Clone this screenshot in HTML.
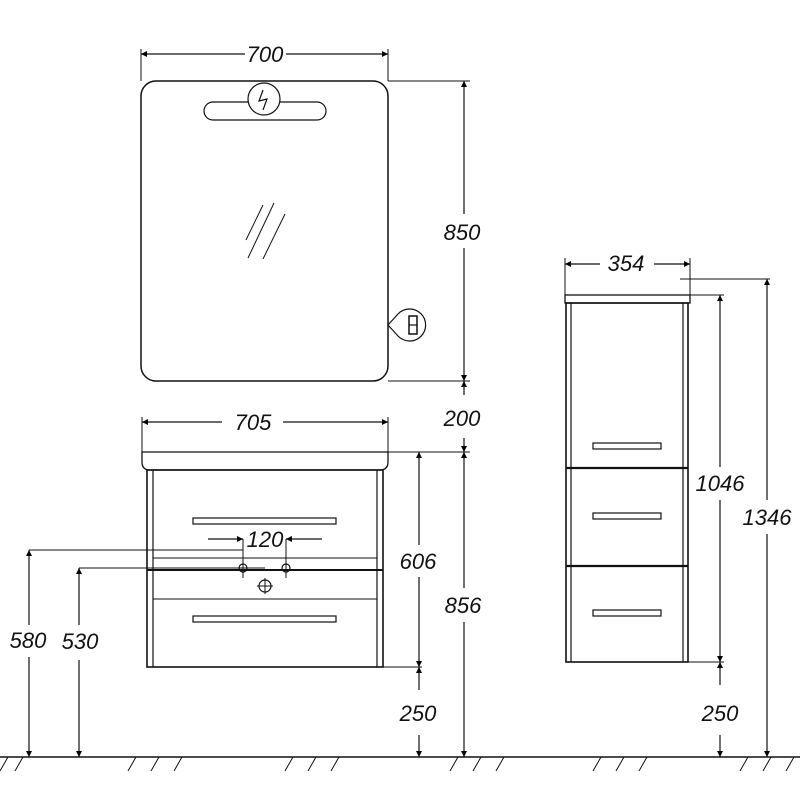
<!DOCTYPE html>
<html><head><meta charset="utf-8"><style>html,body{margin:0;padding:0;background:#fff}svg{display:block}text{font-family:"Liberation Sans",sans-serif;font-style:italic;font-size:22px;fill:#111;text-anchor:middle}</style></head>
<body>
<svg width="800" height="800" viewBox="0 0 800 800" xmlns="http://www.w3.org/2000/svg">
<defs>
<marker id="a" viewBox="0 0 10 10" refX="10" refY="5" markerWidth="14" markerHeight="6" markerUnits="userSpaceOnUse" orient="auto-start-reverse"><path d="M0,0L10,5L0,10z" fill="#000"/></marker>
</defs>
<g stroke="#111" fill="none" stroke-width="1.2">
<!-- floor -->
<line x1="0" y1="757" x2="800" y2="757" stroke-width="1.5"/>
<g stroke-width="1">
<path d="M0,771 L8,757 M15,771 L23,757"/>
<path d="M128,771L136,757M151,771L159,757M174,771L182,757"/>
<path d="M285,771L293,757M308,771L316,757M331,771L339,757"/>
<path d="M450,771L458,757M473,771L481,757M496,771L504,757"/>
<path d="M593,771L601,757M616,771L624,757M639,771L647,757"/>
<path d="M740,771L748,757M763,771L771,757M786,771L794,757"/>
</g>
<!-- mirror -->
<rect x="141" y="81" width="247" height="300" rx="15" stroke-width="1.5"/>
<rect x="204" y="102" width="122" height="18" rx="9"/>
<circle cx="264" cy="99" r="16" fill="#fff"/>
<path d="M263,90 L259,101 L267,99 L263,110" />
<path d="M246,240L263,205M248,258L274,203M263,259L285,214" stroke-width="1"/>
<path d="M388,307 L388,343" stroke-width="1"/>
<path d="M388,325 L398,314 A16,16 0 1 1 398,336 Z" fill="#fff"/>
<rect x="409" y="316" width="8" height="18" stroke-width="1.5"/>
<line x1="409" y1="325" x2="417" y2="325"/>
<!-- 700 dim -->
<line x1="141" y1="49" x2="141" y2="81" stroke-width="1"/>
<line x1="388" y1="49" x2="388" y2="81" stroke-width="1"/>
<line x1="141" y1="54" x2="245" y2="54" marker-start="url(#a)"/>
<line x1="286" y1="54" x2="388" y2="54" marker-end="url(#a)"/>
<!-- 850/200/856 -->
<line x1="388" y1="81" x2="470" y2="81" stroke-width="1"/>
<line x1="388" y1="381" x2="470" y2="381" stroke-width="1"/>
<line x1="388" y1="452" x2="470" y2="452" stroke-width="1"/>
<line x1="464" y1="81" x2="464" y2="214" marker-start="url(#a)"/>
<line x1="464" y1="248" x2="464" y2="381" marker-end="url(#a)"/>
<line x1="464" y1="395" x2="464" y2="381" marker-end="url(#a)"/>
<line x1="464" y1="438" x2="464" y2="452" marker-end="url(#a)"/>
<line x1="464" y1="452" x2="464" y2="588" marker-start="url(#a)"/>
<line x1="464" y1="622" x2="464" y2="757" marker-end="url(#a)"/>
<!-- vanity -->
<line x1="142" y1="417" x2="142" y2="452" stroke-width="1"/>
<line x1="388" y1="417" x2="388" y2="452" stroke-width="1"/>
<line x1="142" y1="422" x2="222" y2="422" marker-start="url(#a)"/>
<line x1="283" y1="422" x2="388" y2="422" marker-end="url(#a)"/>
<path d="M142,452 L388,452 L388,462 Q388,470 380,470 L150,470 Q142,470 142,462 Z" stroke-width="1.3"/>
<rect x="147" y="470" width="236" height="197" stroke-width="1.6"/>
<line x1="153" y1="470" x2="153" y2="667"/>
<line x1="377" y1="470" x2="377" y2="667"/>
<rect x="193" y="518" width="143" height="6"/>
<rect x="193" y="616" width="143" height="6"/>
<line x1="153" y1="558" x2="377" y2="558" stroke-width="1"/>
<line x1="147" y1="570" x2="383" y2="570" stroke-width="2"/>
<line x1="153" y1="599" x2="377" y2="599" stroke-width="1"/>
<circle cx="243" cy="568" r="4"/><circle cx="286" cy="568" r="4"/>
<line x1="243" y1="539" x2="243" y2="578" stroke-width="1"/>
<line x1="286" y1="539" x2="286" y2="578" stroke-width="1"/>
<line x1="208" y1="539" x2="243" y2="539" marker-end="url(#a)"/>
<line x1="322" y1="539" x2="286" y2="539" marker-end="url(#a)"/>
<circle cx="265" cy="586" r="6"/>
<path d="M257,586h16M265,578v16" stroke-width="1"/>
<!-- 580 / 530 -->
<line x1="29" y1="550" x2="243" y2="550" stroke-width="1"/>
<line x1="79" y1="568" x2="265" y2="568" stroke-width="1"/>
<line x1="29" y1="550" x2="29" y2="625" marker-start="url(#a)"/>
<line x1="29" y1="657" x2="29" y2="757" marker-end="url(#a)"/>
<line x1="79" y1="568" x2="79" y2="625" marker-start="url(#a)"/>
<line x1="79" y1="660" x2="79" y2="757" marker-end="url(#a)"/>
<!-- 606 / 250 -->
<line x1="383" y1="667" x2="422" y2="667" stroke-width="1"/>
<line x1="419" y1="452" x2="419" y2="545" marker-start="url(#a)"/>
<line x1="419" y1="577" x2="419" y2="667" marker-end="url(#a)"/>
<line x1="419" y1="690" x2="419" y2="667" marker-end="url(#a)"/>
<line x1="419" y1="735" x2="419" y2="757" marker-end="url(#a)"/>
<!-- column -->
<line x1="565" y1="258" x2="565" y2="295" stroke-width="1"/>
<line x1="690" y1="258" x2="690" y2="295" stroke-width="1"/>
<line x1="565" y1="264" x2="600" y2="264" marker-start="url(#a)"/>
<line x1="654" y1="264" x2="690" y2="264" marker-end="url(#a)"/>
<rect x="565" y="295" width="125" height="8" stroke-width="1.3"/>
<rect x="566" y="303" width="122" height="359" stroke-width="1.6"/>
<line x1="571" y1="303" x2="571" y2="662"/>
<line x1="683" y1="303" x2="683" y2="662"/>
<line x1="566" y1="468" x2="688" y2="468" stroke-width="2.2"/>
<line x1="566" y1="566" x2="688" y2="566" stroke-width="2.2"/>
<rect x="593" y="443" width="68" height="6"/>
<rect x="593" y="513" width="68" height="6"/>
<rect x="593" y="610" width="68" height="6"/>
<line x1="688" y1="295" x2="724" y2="295" stroke-width="1"/>
<line x1="688" y1="662" x2="724" y2="662" stroke-width="1"/>
<line x1="680" y1="279" x2="770" y2="279" stroke-width="1"/>
<line x1="720" y1="295" x2="720" y2="467" marker-start="url(#a)"/>
<line x1="720" y1="500" x2="720" y2="662" marker-end="url(#a)"/>
<line x1="720" y1="685" x2="720" y2="662" marker-end="url(#a)"/>
<line x1="720" y1="735" x2="720" y2="757" marker-end="url(#a)"/>
<line x1="767" y1="279" x2="767" y2="500" marker-start="url(#a)"/>
<line x1="767" y1="534" x2="767" y2="757" marker-end="url(#a)"/>
</g>
<g stroke="none">
<text x="265" y="62">700</text>
<text x="462" y="240">850</text>
<text x="462" y="426">200</text>
<text x="253" y="430">705</text>
<text x="265" y="547">120</text>
<text x="418" y="569">606</text>
<text x="463" y="613">856</text>
<text x="418" y="721">250</text>
<text x="28" y="648">580</text>
<text x="80" y="649">530</text>
<text x="626" y="271">354</text>
<text x="720" y="491">1046</text>
<text x="767" y="525">1346</text>
<text x="720" y="721">250</text>
</g>
</svg>
</body></html>
